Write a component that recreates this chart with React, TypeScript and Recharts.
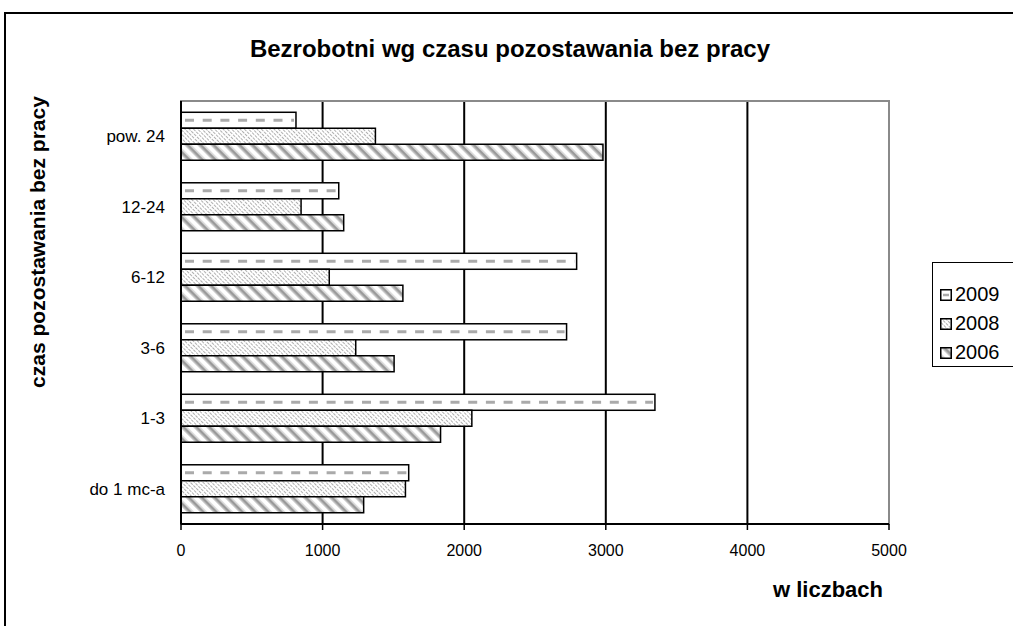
import { BarChart, Bar, XAxis, YAxis, CartesianGrid, ReferenceArea } from 'recharts'

const categories = ['pow. 24', '12-24', '6-12', '3-6', '1-3', 'do 1 mc-a']
const v2009 = [812, 1114, 2794, 2723, 3347, 1608]
const v2008 = [1373, 848, 1047, 1234, 2054, 1585]
const v2006 = [2980, 1149, 1567, 1505, 1833, 1290]
const xTicks = [0, 1000, 2000, 3000, 4000, 5000]
const edgeTicks = [0, 1, 2, 3, 4, 5, 6]

const data = categories.map((name, i) => ({
  name,
  y2009: v2009[i],
  y2008: v2008[i],
  y2006: v2006[i],
}))

const font = '"Liberation Sans", Arial, sans-serif'

// 2009 bars: white with a grey dashed line through the middle
function DashedBar(props: any) {
  const { x, y, width, height } = props
  if (!width || width <= 0) return null
  const mid = y + height / 2
  return (
    <g>
      <rect x={x} y={y} width={width} height={height} fill="#fff" stroke="#000" strokeWidth={1.5} />
      <line x1={x + 4} x2={x + width - 2} y1={mid} y2={mid} stroke="#aaa" strokeWidth={3} strokeDasharray="9 8.7" />
    </g>
  )
}

const legendItems = [
  { label: '2009', kind: 'dash' },
  { label: '2008', kind: 'fine' },
  { label: '2006', kind: 'wide' },
]

function Swatch({ kind }: { kind: string }) {
  return (
    <svg width={12} height={12} style={{ display: 'block' }}>
      <rect x={0.75} y={0.75} width={10.5} height={10.5} fill={kind === 'dash' ? '#fff' : `url(#${kind})`} stroke="#000" strokeWidth={1.5} />
      {kind === 'dash' && <line x1={3} x2={9} y1={6} y2={6} stroke="#aaa" strokeWidth={2.5} />}
    </svg>
  )
}

export default function App() {
  return (
    <div style={{ position: 'absolute', left: 0, top: 0, width: 1013, height: 626, overflow: 'hidden', background: '#fff', fontFamily: font }}>
      <svg width={0} height={0} style={{ position: 'absolute' }}>
        <defs>
          <pattern id="fine" patternUnits="userSpaceOnUse" width={3} height={4} patternTransform="rotate(-45)">
            <rect width={3} height={4} fill="#fff" />
            <rect width={1} height={3} fill="#b0b0b0" />
          </pattern>
          <pattern id="wide" patternUnits="userSpaceOnUse" width={9.2} height={9.2} patternTransform="rotate(-45)">
            <rect width={9.2} height={9.2} fill="#fff" />
            <rect x={0} width={1.2} height={9.2} fill="#cfcfcf" />
            <rect x={1.2} width={2.8} height={9.2} fill="#999" />
            <rect x={4} width={1.2} height={9.2} fill="#cfcfcf" />
          </pattern>
        </defs>
      </svg>

      <div style={{ position: 'absolute', left: 4, top: 12, width: 1040, height: 660, border: '2px solid #000' }} />

      <div style={{ position: 'absolute', left: 0, top: 35, width: 1020, textAlign: 'center', fontSize: 24, lineHeight: '28px', fontWeight: 'bold' }}>
        Bezrobotni wg czasu pozostawania bez pracy
      </div>

      <div
        style={{
          position: 'absolute',
          left: 38,
          top: 242,
          transform: 'translate(-50%, -50%) rotate(-90deg)',
          whiteSpace: 'nowrap',
          fontSize: 21,
          fontWeight: 'bold',
        }}
      >
        czas pozostawania bez pracy
      </div>

      <div style={{ position: 'absolute', left: 773, top: 577, fontSize: 22, lineHeight: '26px', fontWeight: 'bold' }}>w liczbach</div>

      <BarChart
        width={1013}
        height={626}
        data={data}
        layout="vertical"
        margin={{ top: 101, right: 124, bottom: 72, left: 0 }}
        barCategoryGap="16%"
        barGap={0}
        style={{ position: 'absolute', left: 0, top: 0 }}
      >
        <CartesianGrid horizontal={false} stroke="#000" strokeWidth={2} />
        <ReferenceArea x1={0} x2={5000} fill="none" stroke="#8a8a8a" strokeWidth={2} ifOverflow="visible" />
        <YAxis
          yAxisId="edges"
          type="number"
          domain={[0, 6]}
          ticks={edgeTicks}
          width={0}
          tickSize={6}
          axisLine={false}
          tickLine={{ stroke: '#000', strokeWidth: 1.5 }}
          tickFormatter={() => ''}
        />
        <YAxis
          type="category"
          dataKey="name"
          width={181}
          tickLine={false}
          tickSize={0}
          tickMargin={16}
          axisLine={{ stroke: '#000', strokeWidth: 2 }}
          tick={{ fill: '#000', fontSize: 17, fontFamily: font }}
        />
        <XAxis
          type="number"
          domain={[0, 5000]}
          ticks={xTicks}
          height={30}
          tickSize={6}
          tickMargin={15}
          axisLine={{ stroke: '#000', strokeWidth: 2 }}
          tickLine={{ stroke: '#000', strokeWidth: 1.5 }}
          tick={{ fill: '#000', fontSize: 16, fontFamily: font }}
        />
        <Bar dataKey="y2009" shape={DashedBar} isAnimationActive={false} />
        <Bar dataKey="y2008" fill="url(#fine)" stroke="#000" strokeWidth={1.5} isAnimationActive={false} />
        <Bar dataKey="y2006" fill="url(#wide)" stroke="#000" strokeWidth={1.5} isAnimationActive={false} />
      </BarChart>

      <div
        style={{
          position: 'absolute',
          left: 932,
          top: 262,
          width: 90,
          height: 105,
          border: '1.5px solid #000',
          background: '#fff',
          paddingTop: 17,
          boxSizing: 'border-box',
        }}
      >
        {legendItems.map((it) => (
          <div key={it.label} style={{ display: 'flex', alignItems: 'center', height: 29, paddingLeft: 7 }}>
            <Swatch kind={it.kind} />
            <span style={{ fontSize: 20, marginLeft: 3 }}>{it.label}</span>
          </div>
        ))}
      </div>
    </div>
  )
}
